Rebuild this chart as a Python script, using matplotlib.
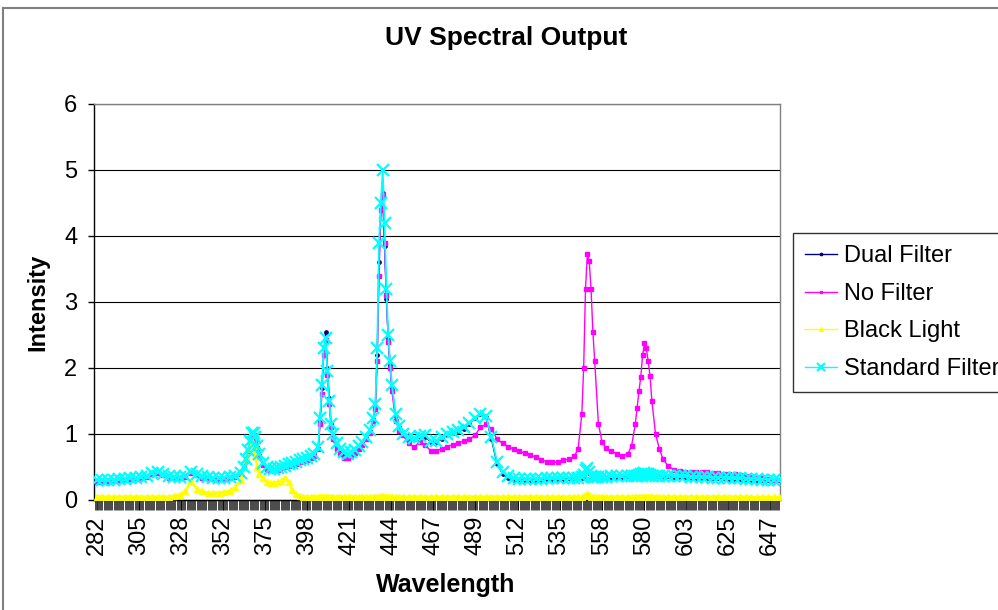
import matplotlib.pyplot as plt
import numpy as np
from matplotlib.lines import Line2D
from matplotlib.ticker import FixedLocator, MultipleLocator

plt.rcParams["font.family"] = ["Liberation Sans", "DejaVu Sans"]

# sampled wavelengths (nm), denser around the mercury lines
WAVELENGTH = [
    282, 285, 288, 291, 294, 297, 300, 303, 306, 309, 312, 315, 318, 321, 324, 327, 330, 333, 336, 339,
    342, 345, 348, 351, 354, 357, 360,
    362, 363, 364, 365, 366, 367, 368, 369, 370, 372,
    374, 376, 378, 380, 382, 384, 386, 388, 390, 392, 394, 396, 398, 400,
    402, 403, 404, 405, 406, 407, 408, 409, 410, 412,
    414, 416, 418, 420, 422, 424, 426, 428,
    430, 432, 433, 434, 435, 436, 437, 438, 439, 440, 441, 442, 444, 446,
    448, 451, 454, 457, 460, 463, 466, 469, 472, 475, 478, 481, 484, 487, 490, 493, 496, 499, 502, 505,
    508, 511, 514, 517, 520, 523, 526, 529, 532, 535, 538, 541,
    543, 545, 546, 547, 548, 549, 550, 551, 552, 554, 556, 558,
    561, 564, 567, 570, 572, 574, 575, 576, 577, 578, 579, 580, 581, 582, 583, 585, 587, 589,
    592, 595, 598, 601, 604, 607, 610, 613, 616, 619, 622, 625, 628, 631, 634, 637, 640, 643, 646, 649, 652,
]

DUAL_FILTER = [
    0.28, 0.28, 0.28, 0.29, 0.30, 0.30, 0.31, 0.32, 0.33, 0.35, 0.39, 0.41, 0.38, 0.34, 0.33, 0.33, 0.35, 0.41, 0.38, 0.34,
    0.33, 0.32, 0.32, 0.32, 0.33, 0.35, 0.39,
    0.48, 0.60, 0.74, 0.88, 0.99, 1.00, 0.93, 0.80, 0.68, 0.54,
    0.48, 0.45, 0.45, 0.47, 0.48, 0.50, 0.52, 0.54, 0.56, 0.58, 0.60, 0.62, 0.64, 0.68,
    0.78, 1.20, 1.70, 2.20, 2.55, 2.00, 1.55, 1.15, 0.98, 0.84,
    0.76, 0.70, 0.68, 0.70, 0.74, 0.80, 0.86, 0.94,
    1.04, 1.22, 1.42, 2.20, 3.60, 4.40, 4.65, 3.85, 3.05, 2.45, 2.05, 1.70, 1.28, 1.10,
    0.98, 0.94, 0.92, 0.95, 0.96, 0.88, 0.88, 0.93, 0.98, 1.01, 1.04, 1.08, 1.15, 1.24, 1.30, 1.26, 0.92, 0.55, 0.40, 0.34,
    0.31, 0.31, 0.31, 0.31, 0.31, 0.31, 0.32, 0.32, 0.32, 0.32, 0.33, 0.33,
    0.33, 0.34, 0.37, 0.43, 0.46, 0.41, 0.35, 0.34, 0.34, 0.34, 0.34, 0.34,
    0.35, 0.35, 0.35, 0.36, 0.36, 0.36, 0.36, 0.37, 0.38, 0.39, 0.40, 0.39, 0.38, 0.37, 0.36, 0.36, 0.36, 0.36,
    0.36, 0.35, 0.35, 0.35, 0.34, 0.34, 0.34, 0.34, 0.33, 0.33, 0.33, 0.32, 0.32, 0.32, 0.31, 0.31, 0.31, 0.30, 0.30, 0.30, 0.30,
]

NO_FILTER = [
    0.28, 0.28, 0.28, 0.29, 0.30, 0.30, 0.31, 0.32, 0.33, 0.35, 0.39, 0.41, 0.38, 0.34, 0.33, 0.33, 0.35, 0.41, 0.38, 0.34,
    0.33, 0.32, 0.32, 0.32, 0.33, 0.35, 0.39,
    0.48, 0.62, 0.78, 0.92, 0.97, 0.96, 0.90, 0.78, 0.66, 0.53,
    0.47, 0.45, 0.45, 0.46, 0.48, 0.50, 0.51, 0.53, 0.55, 0.57, 0.59, 0.61, 0.63, 0.66,
    0.78, 1.15, 1.60, 2.20, 2.42, 1.90, 1.45, 1.10, 0.92, 0.78,
    0.70, 0.63, 0.63, 0.66, 0.71, 0.77, 0.84, 0.92,
    1.02, 1.20, 1.38, 2.10, 3.40, 4.40, 4.62, 3.90, 3.10, 2.40, 2.00, 1.65, 1.20, 1.05,
    0.98, 0.86, 0.80, 0.88, 0.83, 0.75, 0.74, 0.78, 0.81, 0.84, 0.87, 0.89, 0.92, 0.98, 1.10, 1.15, 1.08, 0.92, 0.86, 0.81,
    0.77, 0.74, 0.71, 0.68, 0.65, 0.61, 0.58, 0.57, 0.58, 0.60, 0.62, 0.66,
    0.78, 1.30, 2.00, 3.20, 3.72, 3.62, 3.20, 2.55, 2.10, 1.15, 0.88, 0.79,
    0.74, 0.70, 0.67, 0.70, 0.82, 1.15, 1.40, 1.65, 1.87, 2.20, 2.38, 2.30, 2.10, 1.88, 1.50, 1.00, 0.78, 0.62,
    0.51, 0.46, 0.44, 0.43, 0.43, 0.42, 0.42, 0.42, 0.41, 0.41, 0.40, 0.40, 0.39, 0.38, 0.37, 0.36, 0.34, 0.33, 0.32, 0.31, 0.30,
]

BLACK_LIGHT = [
    0.05, 0.05, 0.05, 0.05, 0.05, 0.05, 0.05, 0.05, 0.05, 0.05, 0.05, 0.05, 0.05, 0.05, 0.06, 0.08, 0.14, 0.29, 0.17, 0.13,
    0.11, 0.11, 0.11, 0.12, 0.14, 0.19, 0.30,
    0.50, 0.65, 0.78, 0.87, 0.90, 0.82, 0.66, 0.50, 0.40, 0.33,
    0.28, 0.26, 0.26, 0.27, 0.29, 0.34, 0.28, 0.15, 0.09, 0.06, 0.05, 0.05, 0.05, 0.05,
    0.05, 0.05, 0.05, 0.05, 0.05, 0.05, 0.05, 0.05, 0.05, 0.05,
    0.05, 0.05, 0.05, 0.05, 0.05, 0.05, 0.05, 0.05,
    0.05, 0.05, 0.05, 0.05, 0.05, 0.06, 0.06, 0.05, 0.05, 0.05, 0.05, 0.05, 0.05, 0.05,
    0.05, 0.05, 0.05, 0.05, 0.05, 0.05, 0.05, 0.05, 0.05, 0.05, 0.05, 0.05, 0.05, 0.05, 0.05, 0.05, 0.05, 0.05, 0.05, 0.05,
    0.05, 0.05, 0.05, 0.05, 0.05, 0.05, 0.05, 0.05, 0.05, 0.05, 0.05, 0.05,
    0.05, 0.05, 0.06, 0.07, 0.09, 0.07, 0.05, 0.05, 0.05, 0.05, 0.05, 0.05,
    0.05, 0.05, 0.05, 0.05, 0.05, 0.05, 0.05, 0.05, 0.05, 0.05, 0.05, 0.05, 0.05, 0.05, 0.05, 0.05, 0.05, 0.05,
    0.05, 0.05, 0.05, 0.05, 0.05, 0.05, 0.05, 0.05, 0.05, 0.05, 0.05, 0.05, 0.05, 0.05, 0.05, 0.04, 0.04, 0.04, 0.04, 0.04, 0.04,
]

STANDARD_FILTER = [
    0.30, 0.30, 0.30, 0.31, 0.32, 0.32, 0.33, 0.34, 0.35, 0.37, 0.41, 0.43, 0.40, 0.36, 0.35, 0.35, 0.37, 0.43, 0.40, 0.36,
    0.35, 0.34, 0.34, 0.34, 0.35, 0.37, 0.41,
    0.50, 0.62, 0.76, 0.90, 1.01, 1.02, 0.95, 0.82, 0.70, 0.56,
    0.50, 0.47, 0.47, 0.49, 0.50, 0.52, 0.54, 0.56, 0.58, 0.60, 0.62, 0.64, 0.66, 0.70,
    0.80, 1.25, 1.75, 2.30, 2.45, 1.95, 1.50, 1.15, 1.00, 0.86,
    0.78, 0.72, 0.70, 0.72, 0.76, 0.82, 0.88, 0.96,
    1.06, 1.25, 1.45, 2.30, 3.90, 4.50, 5.00, 4.20, 3.20, 2.50, 2.10, 1.75, 1.30, 1.12,
    1.00, 0.96, 0.94, 0.97, 0.98, 0.90, 0.90, 0.95, 1.00, 1.03, 1.06, 1.10, 1.17, 1.25, 1.31, 1.27, 0.95, 0.58, 0.42, 0.36,
    0.33, 0.32, 0.32, 0.32, 0.32, 0.32, 0.33, 0.33, 0.33, 0.33, 0.34, 0.34,
    0.34, 0.35, 0.38, 0.45, 0.48, 0.42, 0.36, 0.35, 0.35, 0.35, 0.35, 0.35,
    0.36, 0.36, 0.36, 0.37, 0.37, 0.37, 0.37, 0.38, 0.39, 0.40, 0.41, 0.40, 0.39, 0.38, 0.37, 0.37, 0.37, 0.37,
    0.37, 0.36, 0.36, 0.36, 0.35, 0.35, 0.35, 0.35, 0.34, 0.34, 0.34, 0.33, 0.33, 0.33, 0.32, 0.32, 0.32, 0.31, 0.31, 0.31, 0.31,
]

TICK_LABELS = ["282", "305", "328", "352", "375", "398", "421", "444", "467",
               "489", "512", "535", "558", "580", "603", "625", "647"]

for series in (DUAL_FILTER, NO_FILTER, BLACK_LIGHT, STANDARD_FILTER):
    assert len(series) == len(WAVELENGTH)

W, H = 998, 610
fig = plt.figure(figsize=(W / 100, H / 100), dpi=100)
ax = fig.add_axes([94 / W, 1 - 500 / H, (780 - 94) / W, (500 - 104) / H])

ax.plot(WAVELENGTH, DUAL_FILTER, color="#000080", lw=1.0, marker="o", ms=2.4,
        label="Dual Filter", zorder=3)
ax.plot(WAVELENGTH, NO_FILTER, color="#FF00FF", lw=1.0, marker="s", ms=2.2,
        label="No Filter", zorder=3)
ax.plot(WAVELENGTH, BLACK_LIGHT, color="#FFFF00", lw=2.0, marker="^", ms=3.8,
        label="Black Light", zorder=3)
ax.plot(WAVELENGTH, STANDARD_FILTER, color="#00FFFF", lw=1.3, marker="x", ms=8, mew=1.6,
        label="Standard Filter", zorder=3)

ax.set_xlim(280.4, 652.5)
ax.set_ylim(0, 6)
ax.set_yticks(range(0, 7))

# category style axis: labels every ~23 nm, tick marks on every sample
ax.xaxis.set_major_locator(FixedLocator(np.linspace(282, 647, len(TICK_LABELS))))
ax.set_xticklabels(TICK_LABELS)
ax.xaxis.set_minor_locator(MultipleLocator(0.6))
ax.tick_params(axis="x", which="major", direction="out", length=7, width=0.6,
               labelsize=17, labelrotation=90, pad=4, color="black")
ax.tick_params(axis="x", which="minor", direction="out", length=7, width=0.5, color="black")
ax.tick_params(axis="y", direction="out", length=4, width=1, labelsize=17, pad=8)

ax.yaxis.grid(True, color="black", lw=0.8)
ax.set_axisbelow(True)
for side in ("top", "right"):
    ax.spines[side].set_color("#808080")
    ax.spines[side].set_linewidth(1.0)
for side in ("left", "bottom"):
    ax.spines[side].set_color("black")
    ax.spines[side].set_linewidth(1.0)

fig.text(506 / W, 1 - 38 / H, "UV Spectral Output", ha="center", va="center",
         fontsize=19, fontweight="bold")
fig.text(446 / W, 1 - 585 / H, "Wavelength", ha="center", va="center",
         fontsize=18, fontweight="bold")
fig.text(38 / W, 1 - 302 / H, "Intensity", ha="center", va="center", rotation=90,
         fontsize=17, fontweight="bold")

leg = fig.legend(loc="upper left", bbox_to_anchor=(793 / W, 1 - 233 / H), fontsize=17,
                 frameon=True, fancybox=False, edgecolor="black", numpoints=1,
                 handlelength=1.35, handletextpad=0.3, labelspacing=0.66, borderpad=0.52,
                 borderaxespad=0, markerscale=0.7)
leg.get_frame().set_linewidth(1.0)
for handle in leg.legend_handles:
    handle.set_linewidth(1.0)

# outer chart-area border (only top and left edges are in frame)
fig.add_artist(Line2D([3 / W, 1], [1 - 8 / H, 1 - 8 / H], color="#808080", lw=1.5,
                      transform=fig.transFigure))
fig.add_artist(Line2D([3 / W, 3 / W], [0, 1 - 8 / H], color="#808080", lw=1.5,
                      transform=fig.transFigure))

fig.savefig("out.png", dpi=100)
